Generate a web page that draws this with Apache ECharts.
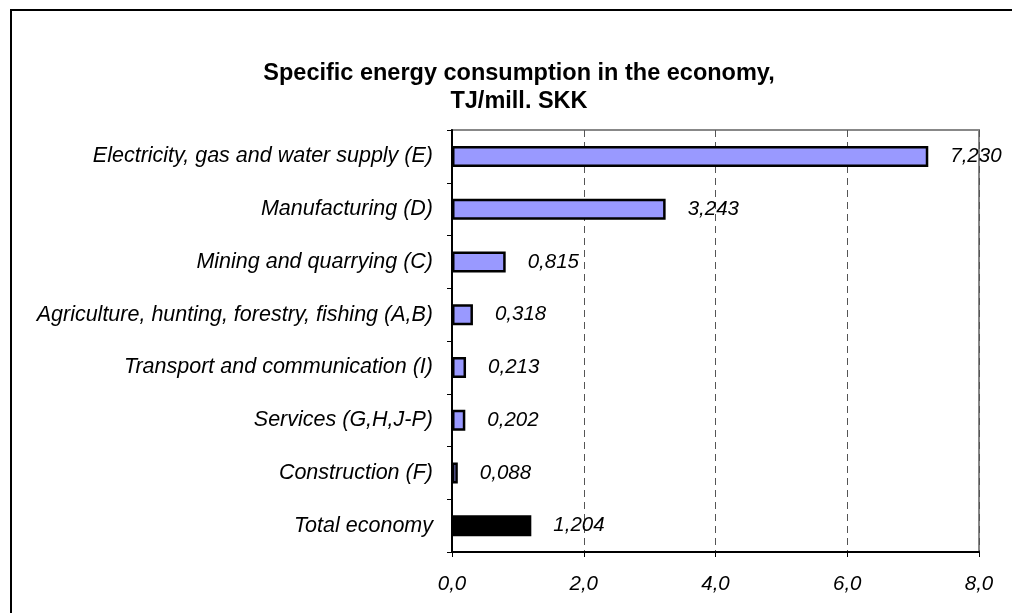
<!DOCTYPE html>
<html>
<head>
<meta charset="utf-8">
<script src="https://cdn.jsdelivr.net/npm/echarts@6/dist/echarts.min.js"></script>
<style>
	html, body { margin: 0; padding: 0; background: #fff; }
	#chart { width: 1012px; height: 613px; }
</style>
</head>
<body>
<div id="chart"></div>
<script>
// categories top to bottom
const sectors = [
	'Electricity, gas and water supply (E)',
	'Manufacturing (D)',
	'Mining and quarrying (C)',
	'Agriculture, hunting, forestry, fishing (A,B)',
	'Transport and communication (I)',
	'Services (G,H,J-P)',
	'Construction (F)',
	'Total economy'
]
const consumption = [7.230, 3.243, 0.815, 0.318, 0.213, 0.202, 0.088, 1.204]
const totalName = 'Total economy'
const titleText = 'Specific energy consumption in the economy,\nTJ/mill. SKK'

const font = 'Liberation Sans, Arial, sans-serif'

var myChart = echarts.init(document.getElementById('chart'))

const barData = []
for (let i = 0; i < sectors.length; i++) {
	barData.push({
		value: consumption[i],
		itemStyle: { color: sectors[i] === totalName ? '#000' : '#9999ff' }
	})
}

var option = {
	animation: false,
	graphic: [{
		type: 'rect',
		shape: { x: 11, y: 10, width: 1020, height: 620 },
		style: { fill: 'none', stroke: '#000', lineWidth: 2 },
		silent: true
	}, {
		// title, centred a little right of the page middle
		type: 'text',
		x: 519,
		y: 60,
		style: {
			text: titleText,
			align: 'center',
			verticalAlign: 'top',
			fontFamily: font,
			fontSize: 23.5,
			fontWeight: 'bold',
			lineHeight: 28,
			fill: '#000'
		}
	}],
	grid: {
		left: 452,
		right: 33,
		top: 130,
		bottom: 61,
		show: true,
		borderColor: '#888',
		borderWidth: 2
	},
	xAxis: {
		type: 'value',
		min: 0,
		max: 8,
		interval: 2,
		axisLine: { show: true, lineStyle: { color: '#000', width: 2 } },
		axisTick: { show: true, length: 5, lineStyle: { color: '#000' } },
		axisLabel: {
			margin: 22,
			fontFamily: font,
			fontSize: 20.5,
			fontStyle: 'italic',
			color: '#000',
			formatter: function(v) {
				return v.toFixed(1).replace('.', ',')
			}
		},
		splitLine: {
			show: true,
			lineStyle: { color: '#555', type: [7, 5], width: 1 }
		}
	},
	yAxis: {
		type: 'category',
		data: sectors,
		inverse: true,
		axisLine: { show: true, lineStyle: { color: '#000', width: 2 } },
		axisTick: { show: true, length: 5, lineStyle: { color: '#000' } },
		axisLabel: {
			margin: 19,
			fontFamily: font,
			fontSize: 21.5,
			fontStyle: 'italic',
			color: '#000'
		}
	},
	series: [{
		type: 'bar',
		data: barData,
		barWidth: 21,
		itemStyle: { borderColor: '#000', borderWidth: 2.5 },
		label: {
			show: true,
			position: 'right',
			distance: 22,
			fontFamily: font,
			fontSize: 20.5,
			fontStyle: 'italic',
			color: '#000',
			formatter: function(p) {
				return p.value.toFixed(3).replace('.', ',')
			}
		}
	}]
}

myChart.setOption(option)
</script>
</body>
</html>
